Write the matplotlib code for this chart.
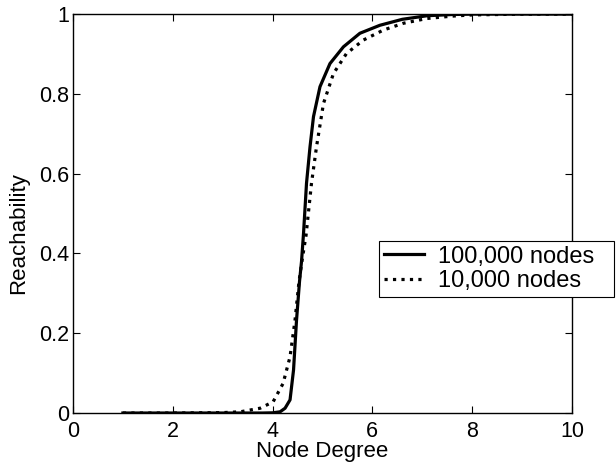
import matplotlib.pyplot as plt

plt.rcParams['font.family'] = ['Liberation Sans', 'DejaVu Sans']

# node degree vs reachability
deg_big = [1.0, 2.0, 3.0, 3.8, 4.0, 4.15, 4.25, 4.35, 4.42, 4.48, 4.54, 4.58, 4.62,
           4.68, 4.75, 4.82, 4.95, 5.15, 5.42, 5.75, 6.15, 6.6, 7.1, 7.6, 8.0, 9.0, 10.0]
reach_big = [0.0, 0.0, 0.0, 0.0, 0.0005, 0.003, 0.012, 0.033, 0.108, 0.233, 0.33, 0.38,
             0.45, 0.576, 0.667, 0.743, 0.818, 0.876, 0.918, 0.952, 0.972, 0.987,
             0.996, 0.999, 1.0, 1.0, 1.0]

deg_small = [1.0, 2.0, 3.0, 3.35, 3.75, 4.01, 4.21, 4.35, 4.45, 4.53, 4.6, 4.67, 4.78,
             4.88, 5.02, 5.22, 5.48, 5.82, 6.22, 6.62, 7.09, 7.6, 8.0, 9.0, 10.0]
reach_small = [0.0, 0.0, 0.001, 0.003, 0.012, 0.028, 0.074, 0.141, 0.233, 0.33, 0.39,
               0.445, 0.576, 0.667, 0.776, 0.851, 0.901, 0.935, 0.96, 0.977, 0.989,
               0.995, 0.998, 1.0, 1.0]

fig = plt.figure(figsize=(6.16, 4.66), dpi=100)
ax = fig.add_axes([0.1185, 0.1137, 0.810, 0.856])

ax.plot(deg_big, reach_big, 'k-', lw=2.3, label='100,000 nodes')
ax.plot(deg_small, reach_small, 'k:', lw=2.3, label='10,000 nodes')

ax.set_xlim(0, 10)
ax.set_ylim(0, 1)
ax.set_xticks([0, 2, 4, 6, 8, 10])
ax.set_yticks([0, 0.2, 0.4, 0.6, 0.8, 1])
ax.set_yticklabels(['0', '0.2', '0.4', '0.6', '0.8', '1'])
ax.tick_params(direction='in', top=True, right=True, labelsize=15.5, length=5, width=0.8)
ax.tick_params(axis='x', pad=6)
ax.tick_params(axis='y', pad=3)
ax.set_xlabel('Node Degree', fontsize=16, labelpad=-1)
ax.set_ylabel('Reachability', fontsize=16)
ax.yaxis.set_label_coords(-0.088, 0.45)
for s in ax.spines.values():
    s.set_linewidth(1.0)

leg = fig.legend(loc='upper left', mode='expand',
                 bbox_to_anchor=(379 / 616, 159 / 466, 235 / 616, 66 / 466),
                 fontsize=17, frameon=True, fancybox=False, edgecolor='black',
                 framealpha=1, handlelength=1.7, handletextpad=0.6, borderpad=0.2,
                 labelspacing=0.1, borderaxespad=0)
leg.get_frame().set_linewidth(0.8)

plt.savefig('out.png', dpi=100)
